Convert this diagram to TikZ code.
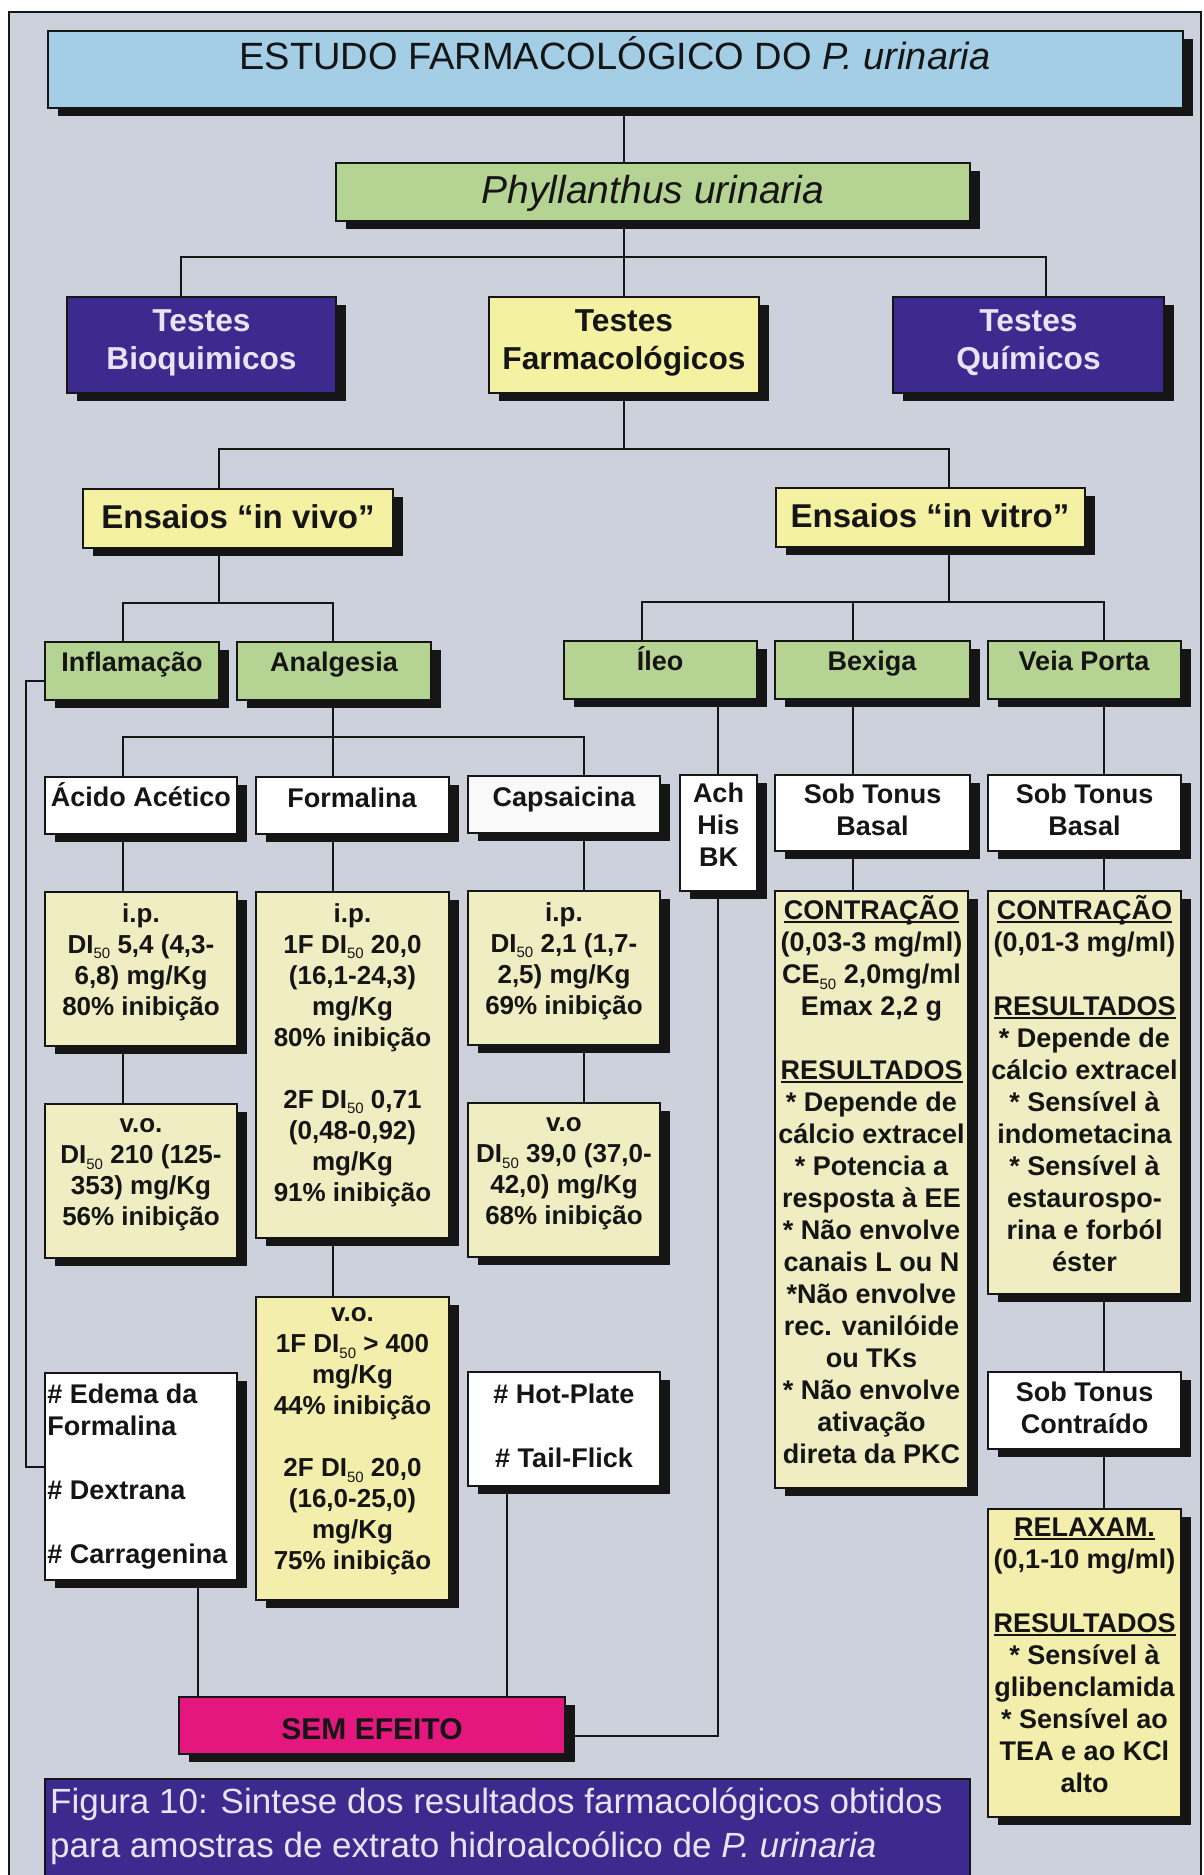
\documentclass[tikz,border=0pt]{standalone}
\usepackage{fontspec}
\setmainfont{Liberation Sans}
\usetikzlibrary{shadows}
\definecolor{bgc}{HTML}{CCD1DC}
\definecolor{titleblue}{HTML}{A3CEE6}
\definecolor{leaf}{HTML}{B5D393}
\definecolor{indigo}{HTML}{3C2A8F}
\definecolor{lemon}{HTML}{F5F1A3}
\definecolor{cream}{HTML}{F1EDC2}
\definecolor{cream2}{HTML}{F3EEAC}
\definecolor{magentab}{HTML}{E3177E}
\definecolor{lilac}{HTML}{E8E4F6}
\definecolor{ink}{HTML}{151515}
\newcommand\setfs[2]{\fontsize{#1}{#2}\selectfont}
\newcommand\dsub[1]{\raisebox{-0.22em}{\fontsize{15}{15}\selectfont\mdseries #1}}
\newcommand\myul[1]{\leavevmode\setbox0=\hbox{#1}\rlap{\rule[-3.5pt]{\wd0}{1.8pt}}\box0}
\newcommand\mkbox[6]{%
  \pgfmathsetmacro\mybw{#5-#3}\pgfmathsetmacro\mybh{#6-#4}%
  \node[bx,#2,minimum width=\mybw pt,minimum height=\mybh pt] (#1) at ({(#3+#5)/2},{(#4+#6)/2}) {};}
\tikzset{
  bx/.style={draw=ink, line width=1.6pt, inner sep=0pt,
    drop shadow={shadow xshift=10pt, shadow yshift=-8pt, opacity=1, fill=ink}},
  cn/.style={draw=ink, line width=1.6pt},
  txt/.style={inner sep=0pt, align=center, text=ink},
  ftitle/.style={font=\setfs{38}{44}},
  fphy/.style={font=\setfs{39}{45}\itshape},
  ftest/.style={font=\setfs{31.7}{38}\bfseries},
  fens/.style={font=\setfs{33}{40}\bfseries},
  flab/.style={font=\setfs{27}{32}\bfseries},
  fdi/.style={font=\setfs{26}{31}\bfseries},
  fres/.style={font=\setfs{27}{32}\bfseries},
  fsem/.style={font=\setfs{30}{36}\bfseries},
  fcap/.style={font=\setfs{35}{44}},
}
\begin{document}
\begin{tikzpicture}[x=1pt,y=-1pt]
\useasboundingbox (0,0) rectangle (1204,1875);
\fill[white] (0,0) rectangle (1204,1875);
\draw[line width=1.4pt, draw=ink, fill=bgc] (9,12) rectangle (1201,1895);

% ---------- boxes ----------
\mkbox{title}{fill=titleblue}{48}{31}{1183}{108}
\mkbox{phy}{fill=leaf}{336}{163}{970}{221}
\mkbox{bioq}{fill=indigo}{67}{297}{336}{393}
\mkbox{farm}{fill=lemon}{489}{297}{759}{393}
\mkbox{quim}{fill=indigo}{893}{297}{1164}{393}
\mkbox{invivo}{fill=lemon}{83}{489}{393}{548}
\mkbox{invitro}{fill=lemon}{776}{488}{1085}{547}
\mkbox{infl}{fill=leaf}{45}{642}{219}{700}
\mkbox{analg}{fill=leaf}{237}{642}{431}{700}
\mkbox{ileo}{fill=leaf}{564}{641}{757}{699}
\mkbox{bexiga}{fill=leaf}{775}{641}{970}{699}
\mkbox{veia}{fill=leaf}{988}{641}{1181}{699}
\mkbox{acido}{fill=white}{45}{777}{237}{834}
\mkbox{formal}{fill=white}{256}{777}{449}{834}
\mkbox{capsa}{fill=white!95!gray}{468}{776}{660}{833}
\mkbox{ach}{fill=white}{680}{775}{757}{891}
\mkbox{stbA}{fill=white}{775}{775}{970}{851}
\mkbox{stbB}{fill=white}{988}{775}{1181}{851}
\mkbox{aip}{fill=cream}{45}{892}{237}{1046}
\mkbox{avo}{fill=cream}{45}{1104}{237}{1258}
\mkbox{fip}{fill=cream}{256}{892}{449}{1238}
\mkbox{fvo}{fill=cream2}{256}{1297}{449}{1600}
\mkbox{cip}{fill=cream}{468}{891}{660}{1045}
\mkbox{cvo}{fill=cream}{468}{1103}{660}{1257}
\mkbox{bexc}{fill=cream}{775}{891}{968}{1488}
\mkbox{vpc}{fill=cream}{988}{891}{1181}{1294}
\mkbox{vpt}{fill=white}{988}{1372}{1181}{1449}
\mkbox{relax}{fill=cream2}{988}{1509}{1181}{1817}
\mkbox{edema}{fill=white}{45}{1373}{237}{1580}
\mkbox{hot}{fill=white}{468}{1372}{660}{1486}
\mkbox{sem}{fill=magentab}{179}{1697}{565}{1754}
\node[draw=ink, line width=1.6pt, fill=indigo, inner sep=0pt, minimum width=925pt, minimum height=111pt] (cap) at (507.5,1834.5) {};

% ---------- texts ----------
\node[txt,ftitle,anchor=base] (title-t) at (615,69) {ESTUDO FARMACOLÓGICO DO \textit{P. urinaria}};
\node[txt,fphy,anchor=base] (phy-t) at (653,203) {Phyllanthus urinaria};
\node[txt,ftest,text=lilac] (bioq-t) at ([yshift=2pt]bioq.center) {Testes\\Bioquimicos};
\node[txt,ftest] (farm-t) at ([yshift=2pt]farm.center) {Testes\\Farmacológicos};
\node[txt,ftest,text=lilac] (quim-t) at ([yshift=2pt]quim.center) {Testes\\Químicos};
\node[txt,fens,anchor=base] (invivo-t) at (238,528) {Ensaios “in vivo”};
\node[txt,fens,anchor=base] (invitro-t) at (930,527) {Ensaios “in vitro”};
\node[txt,flab,anchor=base] (infl-t) at (132,671) {Inflamação};
\node[txt,flab,anchor=base] (analg-t) at (334,671) {Analgesia};
\node[txt,flab,anchor=base] (ileo-t) at (660,670) {Íleo};
\node[txt,flab,anchor=base] (bexiga-t) at (872,670) {Bexiga};
\node[txt,flab,anchor=base] (veia-t) at (1084,670) {Veia Porta};
\node[txt,flab,anchor=base] (acido-t) at (141,806) {Ácido Acético};
\node[txt,flab,anchor=base] (formal-t) at (352,807) {Formalina};
\node[txt,flab,anchor=base] (capsa-t) at (564,806) {Capsaicina};
\node[txt,flab] (ach-t) at ([yshift=8pt]ach.center) {Ach\\His\\BK};
\node[txt,flab] (stbA-t) at ([yshift=3.5pt]stbA.center) {Sob Tonus\\Basal};
\node[txt,flab] (stbB-t) at ([yshift=3.5pt]stbB.center) {Sob Tonus\\Basal};
\node[txt,fdi] (aip-t) at ([yshift=7pt]aip.center) {i.p.\\DI\dsub{50} 5,4 (4,3-\\6,8) mg/Kg\\80\% inibição};
\node[txt,fdi] (avo-t) at ([yshift=6pt]avo.center) {v.o.\\DI\dsub{50} 210 (125-\\353) mg/Kg\\56\% inibição};
\node[txt,fdi] (fip-t) at ([yshift=10pt]fip.center) {i.p.\\1F DI\dsub{50} 20,0\\(16,1-24,3)\\mg/Kg\\80\% inibição\\[31pt]2F DI\dsub{50} 0,71\\(0,48-0,92)\\mg/Kg\\91\% inibição};
\node[txt,fdi] (fvo-t) at ([yshift=7pt]fvo.center) {v.o.\\1F DI\dsub{50} > 400\\mg/Kg\\44\% inibição\\[31pt]2F DI\dsub{50} 20,0\\(16,0-25,0)\\mg/Kg\\75\% inibição};
\node[txt,fdi] (cip-t) at ([yshift=7pt]cip.center) {i.p.\\DI\dsub{50} 2,1 (1,7-\\2,5) mg/Kg\\69\% inibição};
\node[txt,fdi] (cvo-t) at ([yshift=6pt]cvo.center) {v.o\\DI\dsub{50} 39,0 (37,0-\\42,0) mg/Kg\\68\% inibição};
\node[txt,fres] (bexc-t) at ([yshift=10pt]bexc.center) {\myul{CONTRAÇÃO}\\(0,03-3 mg/ml)\\CE\dsub{50} 2,0mg/ml\\Emax 2,2 g\\[32pt]\myul{RESULTADOS}\\{*} Depende de\\cálcio extracel\\{*} Potencia a\\resposta à EE\\{*} Não envolve\\canais L ou N\\{*}Não envolve\\rec. vanilóide\\ou TKs\\{*} Não envolve\\ativação\\direta da PKC};
\node[txt,fres] (vpc-t) at ([yshift=9pt]vpc.center) {\myul{CONTRAÇÃO}\\(0,01-3 mg/ml)\\[32pt]\myul{RESULTADOS}\\{*} Depende de\\cálcio extracel\\{*} Sensível à\\indometacina\\{*} Sensível à\\estaurospo-\\rina e forból\\éster};
\node[txt,flab] (vpt-t) at ([yshift=3pt]vpt.center) {Sob Tonus\\Contraído};
\node[txt,fres] (relax-t) at ([yshift=7.5pt]relax.center) {\myul{RELAXAM.}\\(0,1-10 mg/ml)\\[32pt]\myul{RESULTADOS}\\{*} Sensível à\\glibenclamida\\{*} Sensível ao\\TEA e ao KCl\\alto};
\node[txt,flab,align=left,anchor=west] (edema-t) at ([xshift=3pt]edema.west) {\# Edema da\\Formalina\\[32pt]\# Dextrana\\[32pt]\# Carragenina};
\node[txt,flab] (hot-t) at ([yshift=3.5pt]hot.center) {\# Hot-Plate\\[32pt]\# Tail-Flick};
\node[txt,fsem,anchor=base] (sem-t) at (372,1739) {SEM EFEITO};
\node[txt,fcap,align=left,anchor=west,text=lilac] (cap-t) at (50,1826) {Figura 10: Sintese dos resultados farmacológicos obtidos\\para amostras de extrato hidroalcoólico de \textit{P. urinaria}};

% ---------- connector coordinates ----------
\coordinate (sp) at (624,257);
\coordinate (b1) at (181,257);
\coordinate (b3) at (1046,257);
\coordinate (e1) at (219,449);
\coordinate (e2) at (949,449);
\coordinate (f1) at (123,603);
\coordinate (f2) at (333,603);
\coordinate (g1) at (642,602);
\coordinate (g2) at (853,602);
\coordinate (g3) at (1104,602);
\coordinate (h1) at (123,737);
\coordinate (h2) at (333,737);
\coordinate (h3) at (584,737);
\coordinate (k1) at (718,700);
\coordinate (m1) at (718,1736);
\coordinate (n1) at (198,1600);
\coordinate (n2) at (507,1600);
\coordinate (l1) at (26,681);
\coordinate (l2) at (26,1467);

% ---------- connectors ----------
\draw[cn] (title.south -| sp) -- (phy.north -| sp);
\draw[cn] (phy.south -| sp) -- (farm.north -| sp);
\draw[cn] (bioq.north -| b1) -- (b1) -- (b3) -- (quim.north -| b3);
\draw[cn] (farm.south -| sp) -- (sp |- e1);
\draw[cn] (invivo.north -| e1) -- (e1) -- (e2) -- (invitro.north -| e2);
\draw[cn] (invivo.south -| e1) -- (e1 |- f1);
\draw[cn] (infl.north -| f1) -- (f1) -- (f2) -- (analg.north -| f2);
\draw[cn] (invitro.south -| e2) -- (e2 |- g1);
\draw[cn] (ileo.north -| g1) -- (g1) -- (g3) -- (veia.north -| g3);
\draw[cn] (g2) -- (bexiga.north -| g2);
\draw[cn] (analg.south -| f2) -- (h2);
\draw[cn] (acido.north -| h1) -- (h1) -- (h3) -- (capsa.north -| h3);
\draw[cn] (h2) -- (formal.north -| h2);
\draw[cn] (acido.south -| h1) -- (aip.north -| h1);
\draw[cn] (aip.south -| h1) -- (avo.north -| h1);
\draw[cn] (formal.south -| h2) -- (fip.north -| h2);
\draw[cn] (fip.south -| h2) -- (fvo.north -| h2);
\draw[cn] (capsa.south -| h3) -- (cip.north -| h3);
\draw[cn] (cip.south -| h3) -- (cvo.north -| h3);
\draw[cn] (ileo.south -| k1) -- (ach.north -| k1);
\draw[cn] (bexiga.south -| g2) -- (stbA.north -| g2);
\draw[cn] (veia.south -| g3) -- (stbB.north -| g3);
\draw[cn] (stbA.south -| g2) -- (bexc.north -| g2);
\draw[cn] (stbB.south -| g3) -- (vpc.north -| g3);
\draw[cn] (vpc.south -| g3) -- (vpt.north -| g3);
\draw[cn] (vpt.south -| g3) -- (relax.north -| g3);
\draw[cn] (ach.south -| m1) -- (m1) -- (sem.east |- m1);
\draw[cn] (edema.south -| n1) -- (sem.north -| n1);
\draw[cn] (hot.south -| n2) -- (sem.north -| n2);
\draw[cn] (infl.west |- l1) -- (l1) -- (l2) -- (edema.west |- l2);
\end{tikzpicture}
\end{document}
